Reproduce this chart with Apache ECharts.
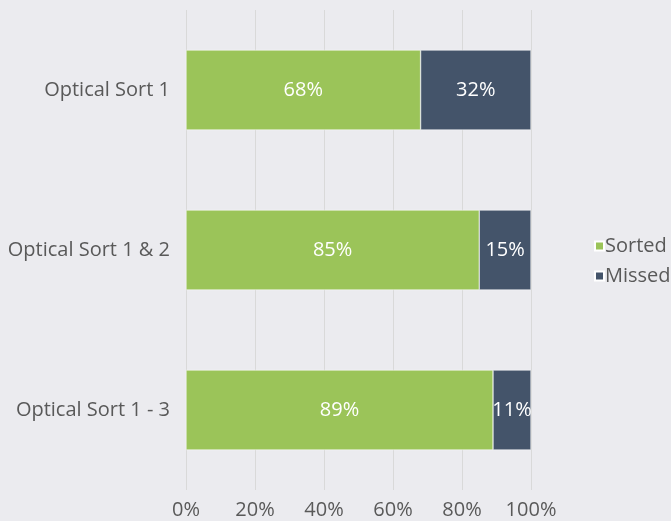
<!DOCTYPE html>
<html>
<head>
<meta charset="utf-8">
<script src="https://cdn.jsdelivr.net/npm/echarts@6/dist/echarts.min.js"></script>
<style>
  html, body { margin: 0; padding: 0; background: #ebebef; }
  #chart { width: 671px; height: 521px; }
</style>
</head>
<body>
<div id="chart"></div>
<script>
// categories listed bottom to top (echarts category y axis)
const categories = ["Optical Sort 1 - 3", "Optical Sort 1 & 2", "Optical Sort 1"];
const sorted = [89, 85, 68];
const missed = [11, 15, 32];
const xTicks = [0, 20, 40, 60, 80, 100];

const FONT = "Open Sans";
const FS = 20;
const myChart = echarts.init(document.getElementById("chart"));
myChart.setOption({
  backgroundColor: "#ebebef",
  textStyle: { fontFamily: FONT },
  grid: { left: 186, right: 140, top: 10, bottom: 31, containLabel: false },
  legend: {
    orient: "vertical",
    left: 589,
    top: 231,
    itemWidth: 9,
    itemHeight: 9,
    itemGap: 10,
    icon: "rect",
    textStyle: { fontSize: FS, color: "#595959", fontFamily: FONT, padding: [0, 0, 0, -4] },
    data: ["Sorted", "Missed"],
  },
  xAxis: {
    type: "value",
    min: xTicks[0],
    max: xTicks[xTicks.length - 1],
    interval: 20,
    axisLine: { show: false },
    axisTick: { show: false },
    splitLine: { lineStyle: { color: "#d9d9d9", width: 1 } },
    axisLabel: { formatter: "{value}%", fontSize: FS, color: "#595959", margin: 10, fontFamily: FONT },
  },
  yAxis: {
    type: "category",
    data: categories,
    axisLine: { show: false },
    axisTick: { show: false },
    axisLabel: { fontSize: FS, color: "#595959", margin: 16, fontFamily: FONT },
  },
  series: [
    {
      name: "Sorted",
      type: "bar",
      stack: "total",
      barWidth: "50%",
      data: sorted,
      itemStyle: { color: "#9bc459", borderColor: "#ffffff", borderWidth: 0.5 },
      label: { show: true, position: "inside", formatter: "{c}%", color: "#ffffff", fontSize: FS, fontFamily: FONT },
    },
    {
      name: "Missed",
      type: "bar",
      stack: "total",
      barWidth: "50%",
      data: missed,
      itemStyle: { color: "#44546a", borderColor: "#ffffff", borderWidth: 0.5 },
      label: { show: true, position: "inside", formatter: "{c}%", color: "#ffffff", fontSize: FS, fontFamily: FONT },
    },
  ],
});
</script>
</body>
</html>
